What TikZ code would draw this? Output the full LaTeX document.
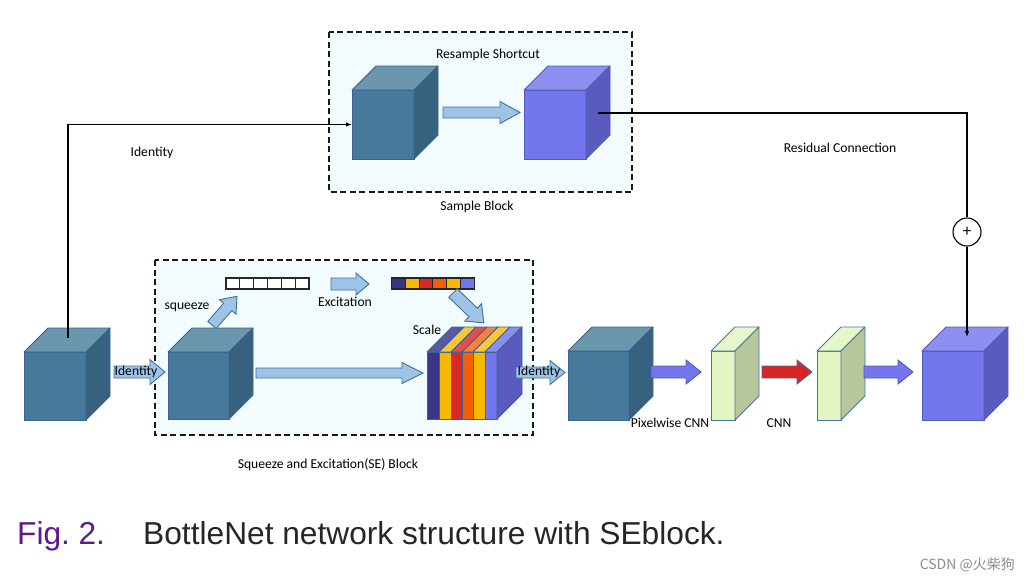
\documentclass[tikz,border=0pt]{standalone}
\usepackage{fontspec}
\setmainfont{Carlito}
\newfontfamily\capfont{Liberation Sans}
\newfontfamily\cjkfont{Noto Sans CJK SC}
\usetikzlibrary{arrows.meta,calc}
\definecolor{boxbg}{HTML}{F2FBFD}
\definecolor{tealF}{HTML}{46799A}
\definecolor{tealT}{HTML}{6A96AE}
\definecolor{tealS}{HTML}{36617F}
\definecolor{tealE}{HTML}{3A6391}
\definecolor{purF}{HTML}{7476EE}
\definecolor{purT}{HTML}{8C8EF0}
\definecolor{purS}{HTML}{5A5BBF}
\definecolor{purE}{HTML}{4F5DB5}
\definecolor{grnF}{HTML}{E2F5C3}
\definecolor{grnT}{HTML}{E6F7CC}
\definecolor{grnS}{HTML}{B7C79B}
\definecolor{grnE}{HTML}{4A72A0}
\definecolor{lblue}{HTML}{9DC3E6}
\definecolor{lblueE}{HTML}{41719C}
\definecolor{redA}{HTML}{D92424}
\definecolor{navyB}{HTML}{3C3489}
\definecolor{navyT}{HTML}{5D57A3}
\definecolor{goldB}{HTML}{F6B800}
\definecolor{goldT}{HTML}{F9C53A}
\definecolor{redB}{HTML}{D72A27}
\definecolor{redT}{HTML}{E0504E}
\definecolor{orgB}{HTML}{F45F02}
\definecolor{orgT}{HTML}{F5813A}
\definecolor{capviolet}{HTML}{5C1A8E}
\definecolor{capgray}{HTML}{262626}
\newcommand\cubedepth{24pt}
% #1 name, #2 cx, #3 cy, #4 w, #5 h, #6 front, #7 top, #8 side, #9 edge
\newcommand\mycube[9]{%
  \node[draw=#9, line width=0.9pt, fill=#6, minimum width=#4pt, minimum height=#5pt, inner sep=0, outer sep=0] (#1) at (#2,#3) {};
  \draw[draw=#9, line width=0.9pt, fill=#7, line join=round] (#1.north west) -- ++(\cubedepth,\cubedepth) -- ++(#4pt,0) -- (#1.north east) -- cycle;
  \draw[draw=#9, line width=0.9pt, fill=#8, line join=round] (#1.north east) -- ++(\cubedepth,\cubedepth) -- ++(0,-#5pt) -- (#1.south east) -- cycle;
}
% #1 style, #2 x, #3 y, #4 angle, #5 length, #6 head length, #7 shaft half, #8 head half
\newcommand\blockarrow[8]{%
  \draw[#1, shift={(#2,#3)}, rotate=#4, line join=miter]
    (0,-#7) -- ({#5-#6},-#7) -- ({#5-#6},-#8) -- (#5,0) -- ({#5-#6},#8) -- ({#5-#6},#7) -- (0,#7) -- cycle;
}
\tikzset{
  lbl/.style={font=\fontsize{13.6}{16}\selectfont, text=black, inner sep=0},
  dbox/.style={draw=black!90, dash pattern=on 6pt off 3.5pt, line width=1.4pt, fill=boxbg},
  conn/.style={draw=black, line width=1.1pt},
  lba/.style={fill=lblue, draw=lblueE, line width=0.9pt},
  pba/.style={fill=purF, draw=purE, line width=0.9pt},
  rba/.style={fill=redA, draw=lblueE, line width=0.9pt},
  cell/.style={draw=black!85, line width=1.1pt, minimum width=13.83pt, minimum height=11pt, inner sep=0, outer sep=0},
  tip/.style={-{Latex[length=6pt,width=4.5pt]}},
}
\begin{document}
\begin{tikzpicture}[x=1pt, y=-1pt]
\useasboundingbox (0,0) rectangle (1030,581);
\fill[white] (0,0) rectangle (1030,581);

% dashed blocks
\draw[dbox] (329,32) rectangle (632,192);
\draw[dbox] (155,260) rectangle (533,435);

% top sample block
\node[lbl] (rs) at (488,55) {Resample Shortcut};
\mycube{s1}{383}{124.5}{62}{69}{tealF}{tealT}{tealS}{tealE}
\mycube{s2}{555}{124.5}{62}{69}{purF}{purT}{purS}{purE}
\blockarrow{lba}{443}{112.5}{0}{77}{20}{5.5}{11}
\node[lbl] (sb) at (477,207) {Sample Block};

% bottom row cubes
\mycube{a0}{55}{386}{62}{68}{tealF}{tealT}{tealS}{tealE}
\mycube{e1}{198.5}{385.5}{61}{67}{tealF}{tealT}{tealS}{tealE}
\mycube{c3}{598.5}{385.5}{61}{69}{tealF}{tealT}{tealS}{tealE}
\mycube{f1}{723}{385.5}{24}{69}{grnF}{grnT}{grnS}{grnE}
\mycube{f2}{829}{385.5}{24}{69}{grnF}{grnT}{grnS}{grnE}
\mycube{o1}{953}{385.5}{62}{69}{purF}{purT}{purS}{purE}

% squeeze vector
\foreach \i in {0,...,5} {
  \node[cell, fill=white] (q\i) at ({226+13.83*\i+6.915},283.5) {};
}
% excitation vector
\foreach \i/\c in {0/navyB,1/goldB,2/redB,3/orgB,4/goldB,5/purF} {
  \node[cell, fill=\c] (x\i) at ({392+13.67*\i+6.835},283.5) {};
}

% scale stack
\node[inner sep=0, outer sep=0, minimum width=70pt, minimum height=67pt] (scl) at (462,385.5) {};
\foreach \xa/\xb/\cf/\ct in {427/439/navyB/navyT, 439/451/goldB/goldT, 451/462/redB/redT, 462/473/orgB/orgT, 473/485/goldB/goldT, 485/497/purF/purT} {
  \draw[draw=tealE, line width=0.8pt, fill=\cf] (\xa,352) rectangle (\xb,419);
  \draw[draw=tealE, line width=0.8pt, fill=\ct, line join=round] (\xa,352) -- (\xa+25,327) -- (\xb+25,327) -- (\xb,352) -- cycle;
}
\draw[draw=tealE, line width=0.8pt, fill=purS, line join=round] (497,352) -- (522,327) -- (522,394) -- (497,419) -- cycle;

% block arrows
\blockarrow{lba}{114}{372}{0}{51}{15}{6}{12.5}
\blockarrow{lba}{256}{373}{0}{167}{21}{5}{10.5}
\blockarrow{lba}{212}{325}{49}{38}{14}{5.5}{11}
\blockarrow{lba}{331}{284}{0}{38}{13}{6}{11}
\blockarrow{lba}{453}{293}{-44}{43}{15}{6}{12}
\blockarrow{lba}{516}{372.5}{0}{49}{15}{5.5}{12}
\blockarrow{pba}{651}{372}{0}{50}{15}{6}{12}
\blockarrow{rba}{762}{372}{0}{50}{15}{6}{12}
\blockarrow{pba}{864}{372}{0}{49}{15}{6}{12}

% labels
\node[lbl] (id1) at (136,372) {Identity};
\node[lbl] (id2) at (539,372) {Identity};
\node[lbl] (sq) at (187,307) {squeeze};
\node[lbl] (ex) at (345,302) {Excitation};
\node[lbl] (sc) at (427,330) {Scale};
\node[lbl] (pc) at (670,423) {Pixelwise CNN};
\node[lbl] (cn) at (779,423) {CNN};
\node[lbl] (se) at (328,465) {Squeeze and Excitation(SE) Block};
\node[lbl] (idt) at (152,153) {Identity};
\node[lbl] (rcl) at (840,148) {Residual Connection};

% connectors
\coordinate (i0) at (68,338);
\draw[conn, tip] (i0) |- (s1.west);
\node[circle, draw=black, line width=1.1pt, minimum size=28pt, inner sep=0, fill=white, font=\fontsize{17}{18}\selectfont] (plus) at (967,232) {+};
\coordinate (r0) at (598,113);
\draw[conn] (r0) -| (plus.north);
\coordinate (r1) at (967,337);
\draw[conn, tip] (plus.south) -- (r1);

% caption
\node[anchor=base west, inner sep=0, font=\capfont\fontsize{31.7}{36}\selectfont, text=capviolet] (fig) at (17,544) {Fig.\hspace{0.27em}2.};
\node[anchor=base west, inner sep=0, font=\capfont\fontsize{31.7}{36}\selectfont, text=capgray] (cap) at (143,544) {BottleNet network structure with SEblock.};
\node[anchor=east, inner sep=0, font=\cjkfont\fontsize{14}{16}\selectfont, text=black!45] (wm) at (1015,565) {CSDN @火柴狗};
\end{tikzpicture}
\end{document}
